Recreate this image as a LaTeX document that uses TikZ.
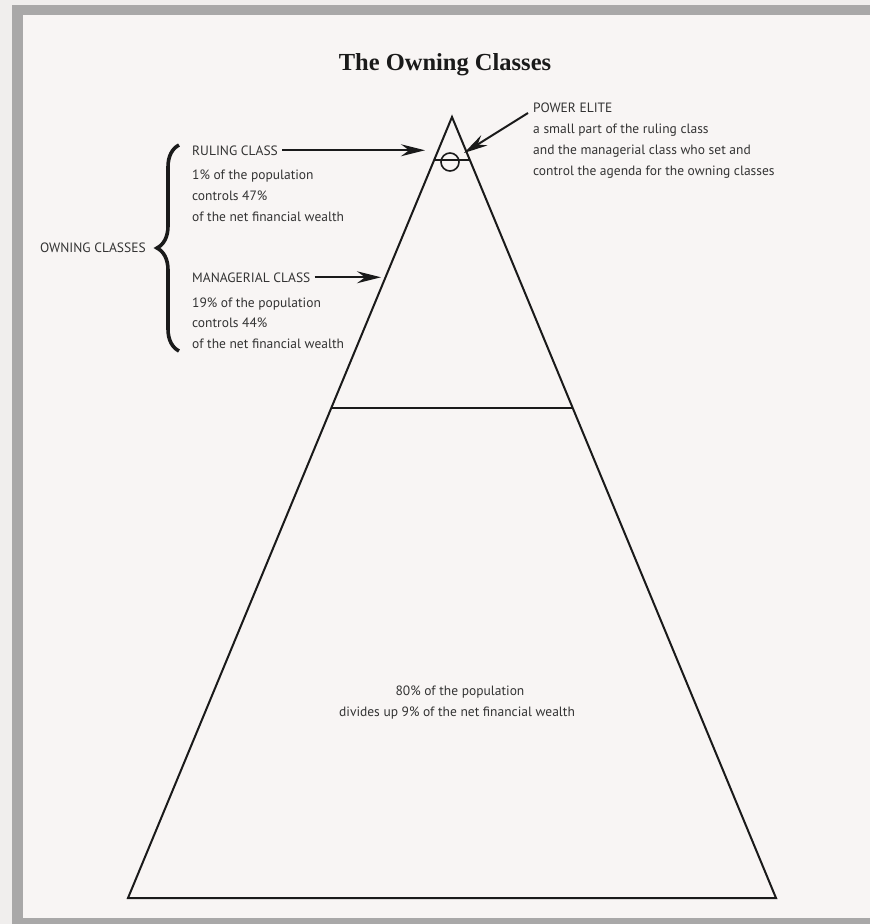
\documentclass[tikz,border=0pt]{standalone}
\usepackage{fontspec}
\setmainfont{PT Sans}
\newfontfamily\titlefont{Liberation Serif}
\usetikzlibrary{arrows.meta,decorations.pathreplacing,calc}
\definecolor{paper}{HTML}{F8F5F4}
\definecolor{outerpaper}{HTML}{F0EEED}
\definecolor{framegray}{HTML}{A9A8A8}
\definecolor{ink}{HTML}{333333}
\definecolor{linec}{HTML}{1A1A1A}
\begin{document}
\begin{tikzpicture}[x=1pt,y=-1pt,
  lbl/.style={anchor=base west, inner sep=0pt, font=\fontsize{13.5}{16}\selectfont, text=ink},
  ctr/.style={anchor=base, inner sep=0pt, font=\fontsize{13.5}{16}\selectfont, text=ink},
  pyr/.style={draw=linec, line width=2pt, line join=miter},
  arr/.style={draw=linec, line width=2pt, -{Stealth[length=24pt, width=12pt, inset=8pt]}},
  bracestyle/.style={draw=linec, line width=3.6pt, decorate, decoration={brace, amplitude=22pt, aspect=0.5}}
]
\useasboundingbox (0,0) rectangle (870,924);
\fill[outerpaper] (0,0) rectangle (870,924);
\fill[framegray] (12,5) rectangle (870,924);
\fill[paper] (23,15) rectangle (870,918);

% title
\node[anchor=base, inner sep=0pt, text=linec, font=\titlefont\bfseries\fontsize{24.5}{29}\selectfont] (title) at (445,70) {The Owning Classes};

% pyramid
\coordinate (apex) at (452,117);
\coordinate (bl) at (128,898);
\coordinate (br) at (776,898);
\draw[pyr] (bl) -- (apex) -- (br) -- cycle;
\coordinate (divl) at ($(apex)!0.3726!(bl)$);
\coordinate (divr) at ($(apex)!0.3726!(br)$);
\draw[draw=linec, line width=2pt] (divl) -- (divr);
\coordinate (topl) at ($(apex)!0.055!(bl)$);
\coordinate (topr) at ($(apex)!0.055!(br)$);
\draw[draw=linec, line width=1.6pt] (topl) -- (topr);
\node[circle, draw=linec, line width=1.6pt, minimum size=18pt, inner sep=0pt] (elitecirc) at (450,162) {};

% power elite
\node[lbl] (pe) at (533,112) {POWER ELITE};
\node[lbl] (pe1) at (533,133) {a small part of the ruling class};
\node[lbl] (pe2) at (533,154) {and the managerial class who set and};
\node[lbl] (pe3) at (533,175) {control the agenda for the owning classes};
\coordinate (pestart) at (528,113);
\coordinate (petip) at (464,153);
\draw[arr] (pestart) -- (petip);

% ruling class
\node[lbl] (rc) at (192,155) {RULING CLASS};
\node[lbl] (rc1) at (192,179) {1\% of the population};
\node[lbl] (rc2) at (192,200) {controls 47\%};
\node[lbl] (rc3) at (192,221) {of the net financial wealth};
\coordinate (rctip) at (425,150);
\draw[arr] ($(rc.east)+(4,0)$) -- (rctip |- rc.east);

% managerial class
\node[lbl] (mc) at (192,282) {MANAGERIAL CLASS};
\node[lbl] (mc1) at (192,307) {19\% of the population};
\node[lbl] (mc2) at (192,327) {controls 44\%};
\node[lbl] (mc3) at (192,348) {of the net financial wealth};
\coordinate (mctip) at (381,277);
\draw[arr] ($(mc.east)+(4,0)$) -- (mctip |- mc.east);

% owning classes with brace
\node[lbl] (oc) at (40,252) {OWNING CLASSES};
\coordinate (brtop) at (179,145);
\coordinate (brbot) at (179,351);
\draw[bracestyle] (brbot) -- (brtop);

% bottom class
\node[ctr] (low1) at (460,695) {80\% of the population};
\node[ctr] (low2) at (457,716) {divides up 9\% of the net financial wealth};
\end{tikzpicture}
\end{document}
